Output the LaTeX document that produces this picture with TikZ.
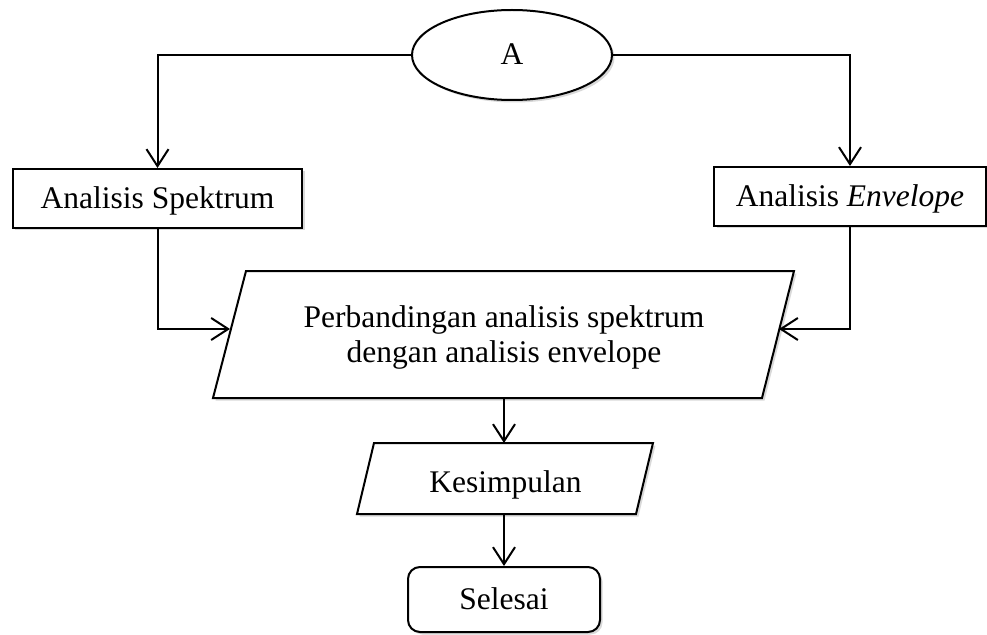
\documentclass[tikz,border=0pt]{standalone}
\usepackage{fontspec}
\setmainfont{Liberation Serif}
\usetikzlibrary{arrows.meta,shapes.geometric,shadows}
\begin{document}
\begin{tikzpicture}[x=1bp,y=-1bp,
  every node/.style={font=\fontsize{31.5bp}{35bp}\selectfont, inner sep=0pt},
  txt/.style={text height=21bp, text depth=1bp},
  shp/.style={draw=black, line width=2bp, fill=white,
    drop shadow={shadow xshift=2.5bp, shadow yshift=-2.5bp, opacity=0.15, fill=black}},
  arr/.style={line width=2bp, -{Straight Barb[length=17bp,width=22bp]}}]
\useasboundingbox (0,0) rectangle (987,635);
% nodes
\node[shp, txt, ellipse, minimum width=200bp, minimum height=90bp] (A) at (512,55) {A};
\node[shp, txt, rectangle, minimum width=289bp, minimum height=59bp] (spek) at (157.5,198.5) {Analisis Spektrum};
\node[shp, txt, rectangle, minimum width=272bp, minimum height=59bp] (env) at (850,196.5) {Analisis \textit{Envelope}};
% parallelogram 1
\coordinate (pTL) at (246,271);
\coordinate (pTR) at (794,271);
\coordinate (pBR) at (762,398);
\coordinate (pBL) at (213,398);
\draw[shp] (pTL) -- (pTR) -- (pBR) -- (pBL) -- cycle;
\node[align=center] (perb) at (504,337) {Perbandingan analisis spektrum\\dengan analisis envelope};
\coordinate (pL) at (230,329);
\coordinate (pR) at (779,329);
\coordinate (pB) at (504,398);
% parallelogram 2
\coordinate (kTL) at (374,443);
\coordinate (kTR) at (653,443);
\coordinate (kBR) at (636,514);
\coordinate (kBL) at (357,514);
\draw[shp] (kTL) -- (kTR) -- (kBR) -- (kBL) -- cycle;
\node[txt] (kes) at (505.5,482) {Kesimpulan};
\coordinate (kT) at (504,443);
\coordinate (kB) at (504,514);
% terminal
\node[shp, txt, rectangle, rounded corners=12bp, minimum width=192bp, minimum height=65bp] (sel) at (504,599.5) {Selesai};
% connectors
\draw[arr] (A.west) -| (spek.north);
\draw[arr] (A.east) -| (env.north);
\draw[arr] (spek.south) |- (pL);
\draw[arr] (env.south) |- (pR);
\draw[arr] (pB) -- (kT);
\draw[arr] (kB) -- (sel.north);
\end{tikzpicture}
\end{document}
